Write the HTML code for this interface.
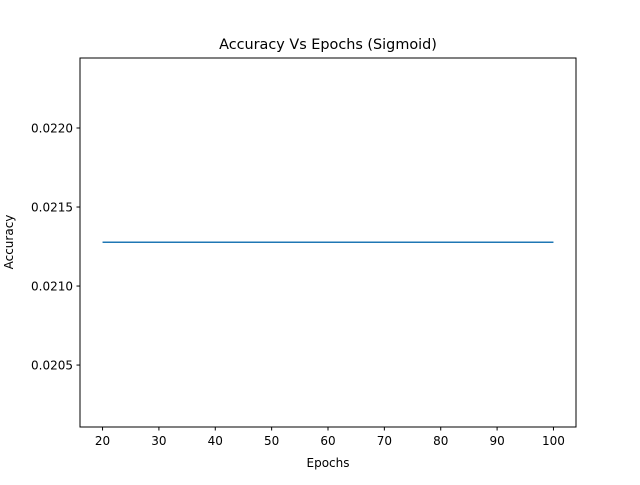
<!DOCTYPE html>
<html><head><meta charset="utf-8"><style>
body{margin:0;background:#fff;}
svg text{font-family:"DejaVu Sans","Liberation Sans",sans-serif;fill:#000;}
</style></head><body>
<svg width="640" height="480">
<rect width="640" height="480" fill="#fff"/>
<text x="328" y="49" font-size="14.4" text-anchor="middle">Accuracy Vs Epochs (Sigmoid)</text>
<g id="xt"></g>
<g id="yt"></g>
<g id="plot"></g>
<rect x="80" y="58" width="496" height="369" fill="none" stroke="#000" stroke-width="1"/>
<text x="328" y="467" font-size="12" text-anchor="middle">Epochs</text>
<text transform="translate(13,242) rotate(-90)" font-size="12" text-anchor="middle">Accuracy</text>
</svg>
<script>
const epochs=[20,40,60,80,100];
const accuracy=[0.021277,0.021277,0.021277,0.021277,0.021277];
const xTicks=[20,30,40,50,60,70,80,90,100];
const yTicks=[0.0205,0.0210,0.0215,0.0220];
const L=80,R=576,T=58,B=427,xmin=16,xmax=104,ymin=0.020108,ymax=0.022443;
const sx=v=>L+(v-xmin)/(xmax-xmin)*(R-L);
const sy=v=>B-(v-ymin)/(ymax-ymin)*(B-T);
const NS='http://www.w3.org/2000/svg';
const xt=document.getElementById('xt'),yt=document.getElementById('yt'),plot=document.getElementById('plot');
xTicks.forEach(t=>{
 const l=document.createElementNS(NS,'line');
 l.setAttribute('x1',sx(t));l.setAttribute('x2',sx(t));l.setAttribute('y1',B);l.setAttribute('y2',B+3.5);l.setAttribute('stroke','#000');
 
 
 xt.appendChild(l);
 const s=document.createElementNS(NS,'text');
 s.setAttribute('x',sx(t));s.setAttribute('y',B+18);s.setAttribute('font-size','12');s.setAttribute('text-anchor','middle');s.textContent=t;
 
 
 xt.appendChild(s);
});
yTicks.forEach(t=>{
 const l=document.createElementNS(NS,'line');
 l.setAttribute('x1',L-3.5);l.setAttribute('x2',L);l.setAttribute('y1',sy(t));l.setAttribute('y2',sy(t));l.setAttribute('stroke','#000');
 
 
 yt.appendChild(l);
 const s=document.createElementNS(NS,'text');
 s.setAttribute('x',L-7);s.setAttribute('y',sy(t)+4.5);s.setAttribute('font-size','12');s.setAttribute('text-anchor','end');s.textContent=t.toFixed(4);
 
 
 yt.appendChild(s);
});
const p=document.createElementNS(NS,'polyline');
p.setAttribute('points',epochs.map((e,i)=>sx(e)+','+sy(accuracy[i])).join(' '));
p.setAttribute('fill','none');p.setAttribute('stroke','#1f77b4');p.setAttribute('stroke-width','1.5');


plot.appendChild(p);
</script>
</body></html>
